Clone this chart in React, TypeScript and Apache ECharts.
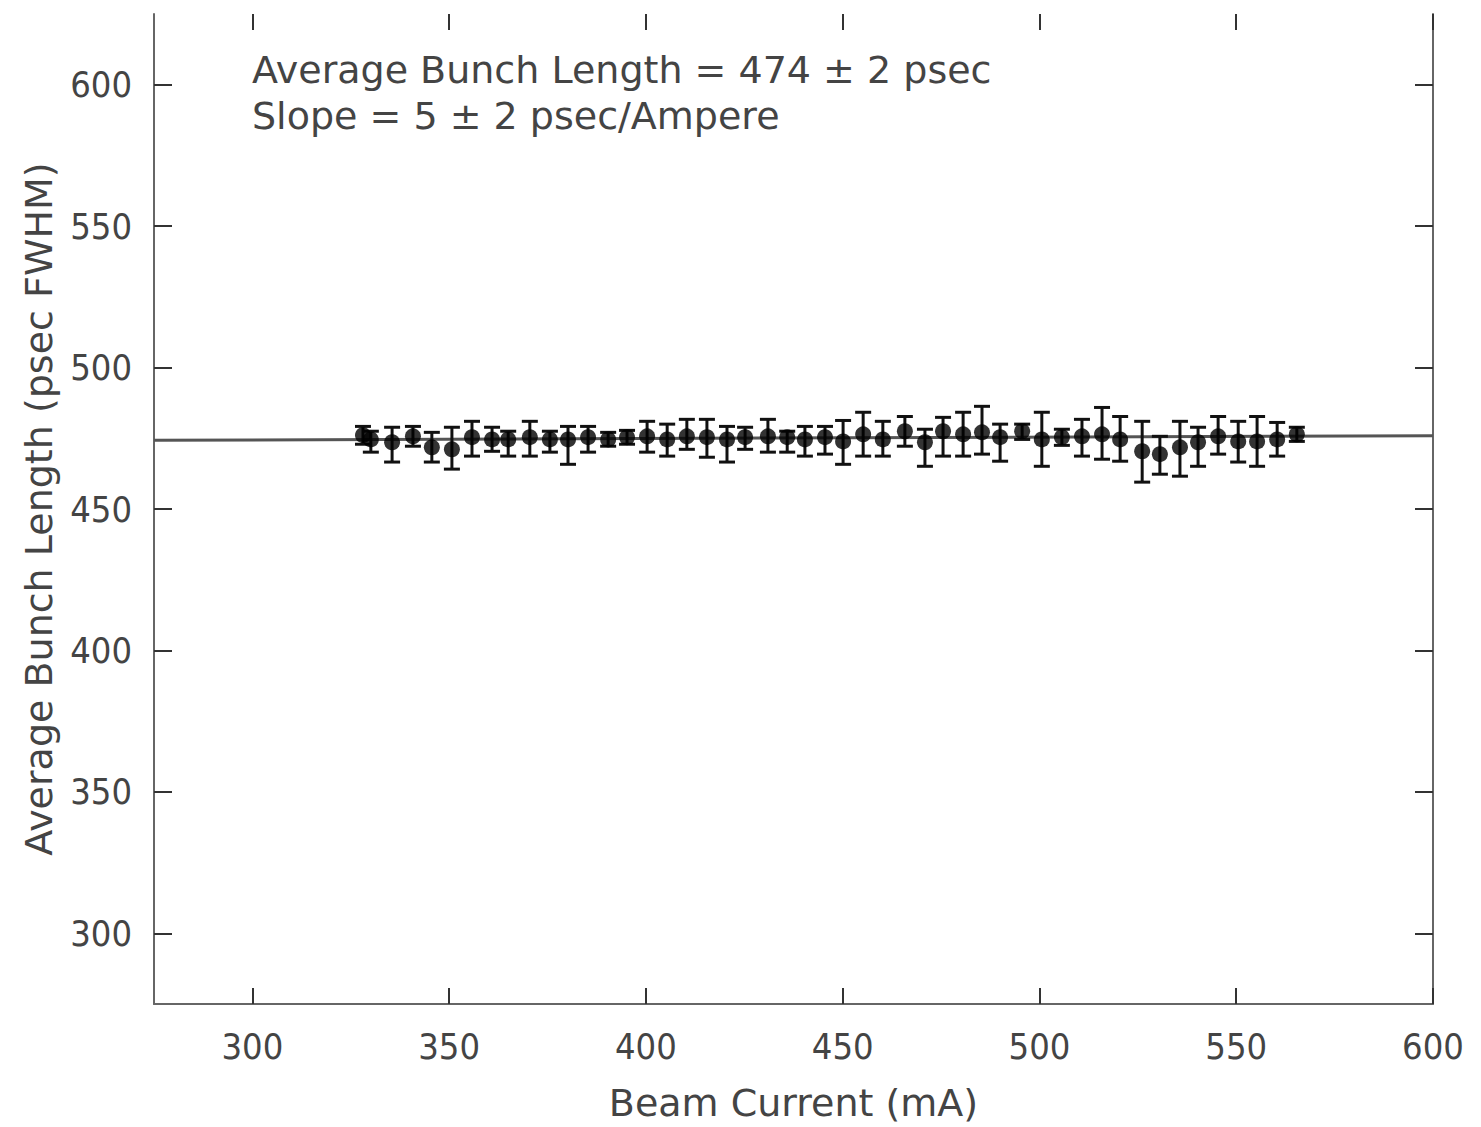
import React, { useEffect, useRef } from "react";
import * as echarts from "echarts";

const current = [328.1, 330.1, 335.5, 340.8, 345.6, 350.7, 355.8, 360.9, 365.0, 370.5, 375.6, 380.2, 385.3, 390.4, 395.2, 400.3, 405.4, 410.4, 415.5, 420.6, 425.2, 431.0, 435.9, 440.4, 445.5, 450.1, 455.2, 460.2, 465.8, 470.9, 475.5, 480.6, 485.4, 490.0, 495.6, 500.6, 505.7, 510.8, 515.9, 520.5, 526.1, 530.6, 535.7, 540.3, 545.4, 550.5, 555.3, 560.4, 565.4];
const bunchLength = [476.1, 474.6, 473.6, 475.7, 471.8, 471.1, 475.4, 474.6, 474.6, 475.4, 474.6, 474.6, 475.4, 474.6, 475.4, 475.7, 474.6, 475.7, 475.4, 474.6, 475.4, 475.7, 475.4, 474.6, 475.4, 473.9, 476.4, 474.6, 477.5, 473.6, 477.5, 476.4, 477.1, 475.4, 477.5, 474.6, 475.4, 475.7, 476.4, 474.6, 470.4, 469.4, 471.8, 473.6, 475.7, 473.9, 473.9, 474.6, 476.4];
const errHigh = [479.2, 477.5, 478.9, 479.2, 477.1, 478.9, 481.0, 478.9, 477.5, 481.0, 477.5, 479.2, 479.2, 477.1, 477.8, 481.0, 480.0, 481.7, 481.7, 479.2, 478.9, 481.7, 477.5, 479.2, 479.2, 481.3, 484.2, 481.0, 482.7, 478.2, 482.4, 484.2, 486.3, 480.0, 480.0, 484.2, 478.2, 481.7, 485.9, 482.7, 481.0, 475.7, 481.0, 478.9, 482.7, 481.0, 482.7, 480.6, 478.9];
const errLow = [472.9, 470.1, 466.6, 472.2, 466.6, 464.1, 468.7, 470.4, 468.7, 468.7, 470.1, 465.8, 470.1, 472.2, 472.9, 470.1, 468.7, 471.1, 468.3, 466.6, 471.1, 470.1, 470.1, 468.7, 469.4, 465.8, 468.7, 468.7, 472.2, 465.1, 468.7, 468.7, 469.4, 466.9, 474.6, 465.1, 472.5, 468.7, 467.6, 466.9, 459.5, 462.3, 461.6, 465.1, 469.4, 466.6, 465.1, 468.7, 473.9];
const fitX = [275, 600];
const fitY = [474.3, 475.9];
const xTicks = [300, 350, 400, 450, 500, 550, 600];
const yTicks = [300, 350, 400, 450, 500, 550, 600];
const annotations = ["Average Bunch Length = 474 \u00b1 2 psec", "Slope = 5 \u00b1 2 psec/Ampere"];

const TICK_FONT = "DejaVu Sans Condensed";
const TITLE_FONT = "DejaVu Sans";
const TEXT_COLOR = "#444";

export default function App() {
  const ref = useRef<HTMLDivElement>(null);
  useEffect(() => {
    if (!ref.current) return;
    const chart = echarts.init(ref.current, null, { renderer: "svg" });
    const labelStyle = { fontSize: 36, fontFamily: TICK_FONT, color: TEXT_COLOR };
    const titleStyle = { fontSize: 38, fontFamily: TITLE_FONT, color: TEXT_COLOR };
    const tickStyle = { color: "#333", width: 2 };
    const option: any = {
      animation: false,
      backgroundColor: "#fff",
      grid: { left: 154, right: 48, top: 14, bottom: 119 },
      xAxis: [
        {
          type: "value",
          min: 275,
          max: 600,
          position: "bottom",
          axisLine: { show: true, onZero: false, lineStyle: { color: "#666", width: 2 } },
          axisTick: { show: true, inside: true, length: 16, customValues: xTicks, lineStyle: tickStyle },
          axisLabel: { ...labelStyle, customValues: xTicks, margin: 24 },
          splitLine: { show: false },
          name: "Beam Current (mA)",
          nameLocation: "middle",
          nameGap: 80,
          nameTextStyle: titleStyle,
        },
        {
          type: "value",
          min: 275,
          max: 600,
          position: "top",
          axisLine: { show: false },
          axisTick: { show: true, inside: true, length: 16, customValues: xTicks, lineStyle: tickStyle },
          axisLabel: { show: false, customValues: xTicks },
          splitLine: { show: false },
        },
      ],
      yAxis: [
        {
          type: "value",
          min: 275,
          max: 625,
          position: "left",
          axisLine: { show: true, onZero: false, lineStyle: { color: "#666", width: 2 } },
          axisTick: { show: true, inside: true, length: 18, customValues: yTicks, lineStyle: tickStyle },
          axisLabel: { ...labelStyle, customValues: yTicks, margin: 22 },
          splitLine: { show: false },
          name: "Average Bunch Length (psec FWHM)",
          nameLocation: "middle",
          nameGap: 96,
          nameTextStyle: titleStyle,
        },
        {
          type: "value",
          min: 275,
          max: 625,
          position: "right",
          axisLine: { show: true, onZero: false, lineStyle: { color: "#666", width: 2 } },
          axisTick: { show: true, inside: true, length: 18, customValues: yTicks, lineStyle: tickStyle },
          axisLabel: { show: false, customValues: yTicks },
          splitLine: { show: false },
        },
      ],
      graphic: annotations.map((t, i) => ({
        type: "text",
        left: 252,
        top: 51 + i * 46,
        style: { text: t, fontSize: 38, fontFamily: TITLE_FONT, fill: TEXT_COLOR },
      })),
      series: [
        {
          type: "line",
          data: fitX.map((x, i) => [x, fitY[i]]),
          symbol: "none",
          lineStyle: { color: "#555", width: 3 },
          z: 1,
        },
        {
          type: "custom",
          data: current.map((x, i) => [x, errLow[i], errHigh[i]]),
          encode: { x: 0, y: [1, 2] },
          renderItem: (params: any, api: any) => {
            const x = api.value(0);
            const lo = api.coord([x, api.value(1)]);
            const hi = api.coord([x, api.value(2)]);
            const hw = 8;
            const style = { stroke: "#111", lineWidth: 3 };
            return {
              type: "group",
              children: [
                { type: "line", shape: { x1: lo[0], y1: lo[1], x2: hi[0], y2: hi[1] }, style },
                { type: "line", shape: { x1: lo[0] - hw, y1: lo[1], x2: lo[0] + hw, y2: lo[1] }, style },
                { type: "line", shape: { x1: hi[0] - hw, y1: hi[1], x2: hi[0] + hw, y2: hi[1] }, style },
              ],
            };
          },
          z: 2,
        },
        {
          type: "scatter",
          data: current.map((x, i) => [x, bunchLength[i]]),
          symbol: "circle",
          symbolSize: 16,
          itemStyle: { color: "#000" },
          z: 3,
        },
      ],
    };
    chart.setOption(option);
    return () => chart.dispose();
  }, []);
  return (
    <div
      ref={ref}
      style={{ position: "absolute", left: 0, top: 0, width: 1481, height: 1127, background: "#fff" }}
    />
  );
}
